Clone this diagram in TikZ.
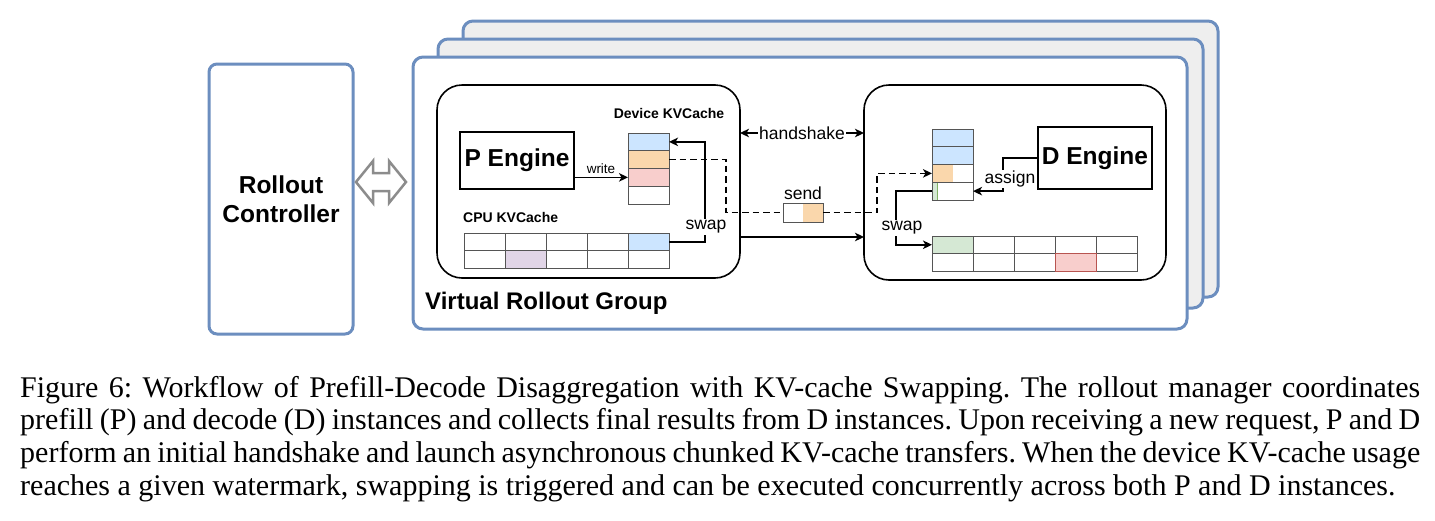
\documentclass[tikz,border=0pt]{standalone}
\usepackage{fontspec}
\setmainfont{Liberation Serif}
\newfontfamily\lsans{Liberation Sans}
\usetikzlibrary{arrows.meta,calc}
\definecolor{grpblue}{HTML}{6C8EBF}
\definecolor{grpgray}{HTML}{EEEEEE}
\definecolor{devblue}{HTML}{CCE5FF}
\definecolor{devorange}{HTML}{FAD7AC}
\definecolor{devpink}{HTML}{F8CECC}
\definecolor{devpurple}{HTML}{E1D5E7}
\definecolor{devgreen}{HTML}{D5E8D4}
\definecolor{greenline}{HTML}{82B366}
\definecolor{redline}{HTML}{B85450}
\definecolor{cellgray}{HTML}{555555}
\definecolor{arrgray}{HTML}{8C8C8C}
\begin{document}
\begin{tikzpicture}[x=1pt,y=-1pt,
  grp/.style={draw=grpblue, line width=3pt, rounded corners=10pt, anchor=north west, inner sep=0, outer sep=0},
  rbox/.style={draw=black, line width=1.6pt, rounded corners=25pt, anchor=north west, inner sep=0, outer sep=0, fill=white},
  eng/.style={draw=black, line width=1.6pt, anchor=north west, inner sep=0, outer sep=0, font=\lsans\bfseries\fontsize{24.5}{29}\selectfont},
  cell/.style={draw=cellgray, line width=0.9pt, anchor=north west, inner sep=0, outer sep=0, minimum width=41pt, minimum height=17.75pt},
  lbl/.style={font=\lsans\fontsize{17.5}{21}\selectfont, inner sep=1pt, fill=white},
  ttl/.style={font=\lsans\bfseries\fontsize{14}{17}\selectfont, inner sep=0},
  tip/.style={-{Stealth[length=9pt,width=8.5pt,inset=2.5pt]}},
  arr/.style={line width=1.7pt, tip},
  dashline/.style={line width=1.7pt, dash pattern=on 6.5pt off 4pt},
]
\useasboundingbox (0,0) rectangle (1435,520);

% stacked group frames
\node[grp, fill=grpgray, minimum width=755pt, minimum height=276pt] (g3) at (463,21) {};
\node[grp, fill=grpgray, minimum width=765pt, minimum height=269pt] (g2) at (438,39) {};
\node[grp, fill=white, minimum width=774pt, minimum height=272pt] (g1) at (413,57) {};
\node[font=\lsans\bfseries\fontsize{24}{29}\selectfont, anchor=west, inner sep=0] (vrg) at (425,303) {Virtual Rollout Group};

% rollout controller
\node[grp, rounded corners=8pt, minimum width=144pt, minimum height=270pt, align=center,
      font=\lsans\bfseries\fontsize{24.5}{29}\selectfont] (rc) at (209,64) {Rollout\\Controller};

% hollow double arrow
\draw[line width=2.5pt, draw=arrgray, fill=white, line join=miter]
  (356,182) -- (373,161) -- (373,173) -- (389,173) -- (389,161) -- (406,182)
  -- (389,203) -- (389,191) -- (373,191) -- (373,203) -- cycle;

% P and D boxes
\node[rbox, minimum width=303pt, minimum height=193pt] (pbox) at (437,85) {};
\node[rbox, minimum width=302pt, minimum height=195pt] (dbox) at (864,85) {};

\node[eng, minimum width=114pt, minimum height=57pt] (pe) at (460,132) {P Engine};
\node[eng, minimum width=114pt, minimum height=62pt] (de) at (1038,127) {D Engine};

% P device KV cache
\node[ttl] (devlbl) at (669,113) {Device KVCache};
\foreach \i/\f in {1/devblue,2/devorange,3/devpink,4/white}
  \node[cell, fill=\f] (dp\i) at (628,{133+17.75*(\i-1)}) {};

% P CPU KV cache
\node[ttl, anchor=west] (cpulbl) at (463,217) {CPU KVCache};
\foreach \r/\c/\f in {1/1/white,1/2/white,1/3/white,1/4/white,1/5/devblue,
                      2/1/white,2/2/devpurple,2/3/white,2/4/white,2/5/white}
  \node[cell, minimum height=17.5pt, fill=\f] (cp\r\c) at ({464+41*(\c-1)},{233+17.5*(\r-1)}) {};

% D device KV cache
\node[cell, fill=devblue] (dd1) at (932,129) {};
\node[cell, fill=devblue] (dd2) at (932,146.75) {};
\node[cell, fill=white, path picture={\fill[devorange] (path picture bounding box.south west) rectangle (path picture bounding box.north);}] (dd3) at (932,164.5) {};
\node[cell, fill=white, path picture={\fill[devgreen] (path picture bounding box.south west) rectangle ([xshift=5pt]path picture bounding box.north west);
   \draw[greenline, line width=1pt] ([xshift=5pt]path picture bounding box.south west) -- ([xshift=5pt]path picture bounding box.north west);}] (dd4) at (932,182.25) {};

% D CPU KV cache
\foreach \r/\c/\f in {1/1/devgreen,1/2/white,1/3/white,1/4/white,1/5/white,
                      2/1/white,2/2/white,2/3/white,2/4/white,2/5/white}
  \node[cell, minimum height=17.5pt, fill=\f] (dc\r\c) at ({932+41*(\c-1)},{236+17.5*(\r-1)}) {};
\node[cell, minimum height=17.5pt, fill=devpink, draw=redline] (dc24r) at (dc24.north west) {};

% send block
\node[cell, minimum width=40pt, minimum height=19pt, fill=white,
      path picture={\fill[devorange] (path picture bounding box.south) rectangle (path picture bounding box.north east);}] (send) at (783,203) {};
\node[lbl, fill=none, above=2pt] (sendlbl) at (send.north) {send};

% connectors
\draw[arr] (pe.east |- dp3.west) -- (dp3.west)
  node[midway, above=3pt, inner sep=0, font=\lsans\fontsize{13.5}{16}\selectfont] (wlbl) {write};

\draw[arr] (cp15.east) -- ++(36,0) |- (dp1.east);
\node[lbl] (swp) at (706,227) {swap};

\draw[dashline] (dp2.east) -- ++(57,0) |- (send.west);
\draw[dashline, tip] (send.east) -- ++(54,0) |- (dd3.west);

\coordinate (sa) at (pbox.east |- 0,237);
\draw[arr] (sa) -- (sa -| dbox.west);

\coordinate (hs) at (pbox.east |- 0,133);
\draw[line width=1.7pt, {Stealth[length=9pt,width=8.5pt,inset=2.5pt]}-{Stealth[length=9pt,width=8.5pt,inset=2.5pt]}]
  (hs) -- (hs -| dbox.west) node[lbl, midway] (hslbl) {handshake};

\draw[arr] (de.west) -- ++(-35,0) |- (dd4.east);
\node[lbl] (asg) at (1010,179) {assign};

\draw[arr] (dd4.west) -- ++(-36,0) |- (dc11.west);
\node[lbl] (swd) at (902,228) {swap};

% caption
\node[anchor=base west, inner sep=0] (cap) at (20,397) {\parbox[t]{1400pt}{%
\fontsize{30}{32.7}\selectfont\frenchspacing\hyphenpenalty=10000\tolerance=10000
Figure 6: Workflow of Prefill-Decode Disaggregation with KV-cache Swapping. The rollout manager coordinates\linebreak
prefill (P) and decode (D) instances and collects final results from D instances. Upon receiving a new request, P and D\linebreak
perform an initial handshake and launch asynchronous chunked KV-cache transfers. When the device KV-cache usage\linebreak
reaches a given watermark, swapping is triggered and can be executed concurrently across both P and D instances.}};
\end{tikzpicture}
\end{document}
